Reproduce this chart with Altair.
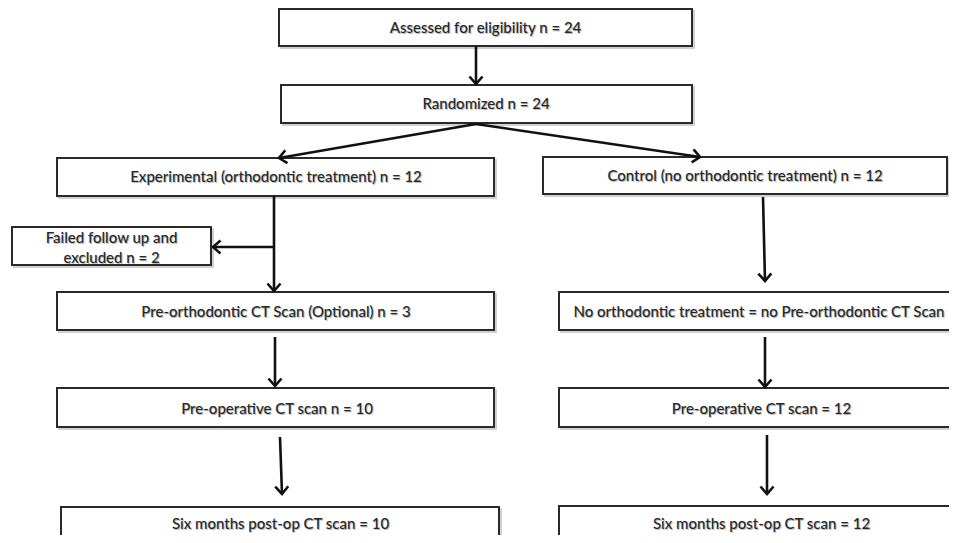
import math
import altair as alt
import pandas as pd

# ---- boxes (image coordinates) ----
box_label = [
    "Assessed for eligibility n = 24",
    "Randomized n = 24",
    "Experimental (orthodontic treatment) n = 12",
    "Control (no orthodontic treatment) n = 12",
    "Failed follow up and",
    "Pre-orthodontic CT Scan (Optional) n = 3",
    "No orthodontic treatment = no Pre-orthodontic CT Scan",
    "Pre-operative CT scan n = 10",
    "Pre-operative CT scan = 12",
    "Six months post-op CT scan = 10",
    "Six months post-op CT scan = 12",
]
box_x1 = [279, 281, 57, 543, 12, 57, 559, 57, 559, 61, 559]
box_x2 = [692, 692, 494, 947, 211, 494, 964, 494, 964, 499, 964]
box_y1 = [9, 85, 158, 157, 227, 292, 292, 388, 388, 507, 506]
box_y2 = [46, 123, 196, 194, 265, 330, 330, 427, 427, 550, 550]

# ---- texts ----
text_label = [
    "Assessed for eligibility n = 24",
    "Randomized n = 24",
    "Experimental (orthodontic treatment) n = 12",
    "Control (no orthodontic treatment) n = 12",
    "Failed follow up and",
    "excluded n = 2",
    "Pre-orthodontic CT Scan (Optional) n = 3",
    "No orthodontic treatment = no Pre-orthodontic CT Scan",
    "Pre-operative CT scan n = 10",
    "Pre-operative CT scan = 12",
    "Six months post-op CT scan = 10",
    "Six months post-op CT scan = 12",
]
text_x = [485.5, 486, 276, 745, 111.5, 111.5, 276, 759, 277, 761.5, 280.5, 761.5]
text_y = [27.5, 104, 177, 176, 238, 258, 312, 312, 409, 409, 524, 524]

# ---- arrows ----
arrow_x1 = [476, 476, 476, 274, 274, 275, 280, 763, 765, 767]
arrow_y1 = [46, 124, 124, 196, 247, 337, 437, 197, 337, 435]
arrow_x2 = [476, 279, 700, 274, 213, 275, 282, 765, 765, 767]
arrow_y2 = [84, 158, 157, 291, 247, 386, 494, 281, 387, 494]

boxes = pd.DataFrame({"label": box_label, "x1": box_x1, "x2": box_x2,
                      "y1": box_y1, "y2": box_y2})
texts = pd.DataFrame({"label": text_label, "x": text_x, "y": text_y})
arrows = pd.DataFrame({"x1": arrow_x1, "y1": arrow_y1,
                       "x2": arrow_x2, "y2": arrow_y2})
arrows["angle"] = [
    math.degrees(math.atan2(-(b - a), (d - c))) % 360
    for a, b, c, d in zip(arrow_x1, arrow_x2, arrow_y1, arrow_y2)
]

W, H = 941, 527
xs = alt.Scale(domain=[8, 8 + W], nice=False, zero=False)
ys = alt.Scale(domain=[8, 8 + H], nice=False, zero=False, reverse=True)

X = lambda f: alt.X(f, type="quantitative", scale=xs, axis=None)
Y = lambda f: alt.Y(f, type="quantitative", scale=ys, axis=None)

shadow = alt.Chart(boxes).mark_rect(
    fill=None, stroke="#9a9a9a", strokeWidth=2, opacity=0.45,
    xOffset=2, yOffset=2, x2Offset=2, y2Offset=2, clip=True
).encode(x=X("x1"), x2="x2", y=Y("y1"), y2="y2")

rects = alt.Chart(boxes).mark_rect(
    fill="white", stroke="#2a2a2a", strokeWidth=2, clip=True
).encode(x=X("x1"), x2="x2", y=Y("y1"), y2="y2")

lines = alt.Chart(arrows).mark_rule(
    color="#111111", strokeWidth=2.6, clip=True
).encode(x=X("x1"), x2="x2", y=Y("y1"), y2="y2")

heads = alt.Chart(arrows).mark_point(
    shape="M -1 -1.15 L 0 0 L 1 -1.15", filled=False, stroke="#111111",
    strokeWidth=2.6, size=170, opacity=1, clip=True
).encode(x=X("x2"), y=Y("y2"), angle=alt.Angle("angle:Q", scale=None))

FS = 15

text_shadow = alt.Chart(texts).mark_text(
    font="Lato", fontSize=FS, fontWeight=500, color="#bdbdbd",
    dx=1, dy=1.3, align="center", baseline="middle", clip=True
).encode(x=X("x"), y=Y("y"), text="label:N")

labels = alt.Chart(texts).mark_text(
    font="Lato", fontSize=FS, fontWeight=500, color="#262626",
    align="center", baseline="middle", clip=True
).encode(x=X("x"), y=Y("y"), text="label:N")

chart = alt.layer(shadow, rects, lines, heads, text_shadow, labels).properties(
    width=W, height=H, padding=0, autosize="none", background="white"
).configure_view(stroke=None)

chart.save("out.html", embed_options={"renderer": "svg", "actions": False})
